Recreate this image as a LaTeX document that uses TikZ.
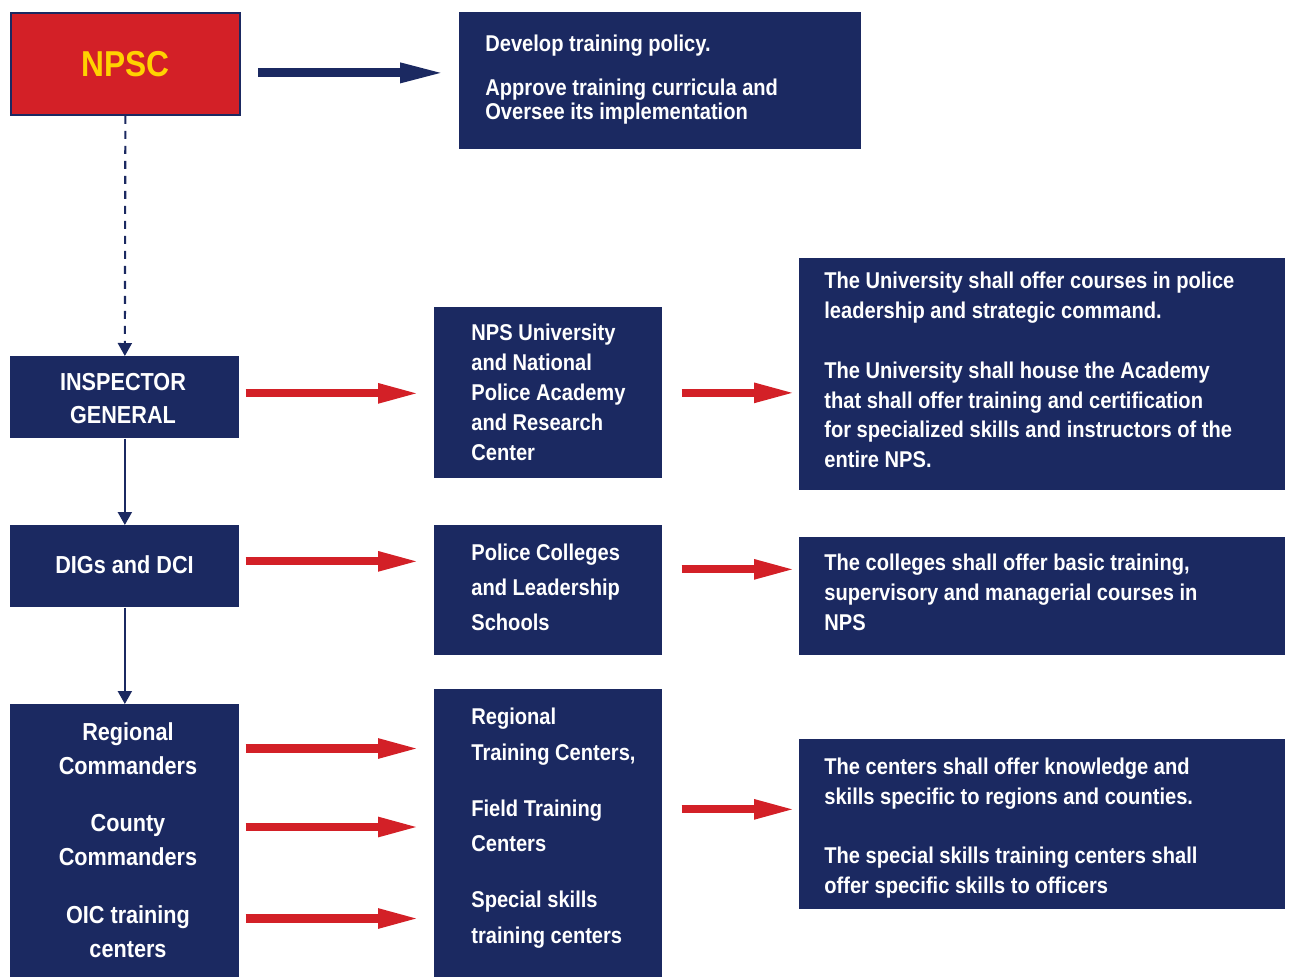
\documentclass[tikz,border=0pt]{standalone}
\usepackage{fontspec}
\setmainfont{Liberation Sans}[FakeStretch=0.88]
\usetikzlibrary{arrows.meta,positioning}

\definecolor{npsNavy}{HTML}{1B2961}
\definecolor{npsRed}{HTML}{D32027}
\definecolor{npsYellow}{HTML}{FFD200}

\tikzset{
    box/.style={fill=npsNavy, anchor=north west, inner sep=0pt},
    rankText/.style={text=white, font=\bfseries\fontsize{14}{19}\selectfont, align=center, inner sep=0pt},
    unitText/.style={text=white, font=\bfseries\fontsize{13}{17}\selectfont, align=left, anchor=west, inner sep=0pt},
    roleText/.style={text=white, font=\bfseries\fontsize{13}{17}\selectfont, align=left, anchor=west, inner sep=0pt},
    redArrow/.style={draw=npsRed, line width=4.6pt, -{Triangle[length=0.84cm,width=0.36cm]}},
    navyArrow/.style={draw=npsNavy, line width=5pt, -{Triangle[length=0.92cm,width=0.36cm]}},
    chainArrow/.style={draw=npsNavy, line width=1.2pt, -{Triangle[length=0.26cm,width=0.28cm]}}
}

\begin{document}
\begin{tikzpicture}
    \useasboundingbox (0,0) rectangle (25.84,-19.54);

    % commission and its mandate
    \node[box, fill=npsRed, draw=npsNavy, line width=1pt, minimum width=4.58cm, minimum height=2.04cm,
        text=npsYellow, font=\bfseries\fontsize{20.5}{24}\selectfont] (npsc) at (0.2,-0.24) {NPSC};
    \node[box, minimum width=8.04cm, minimum height=2.74cm] (policy) at (9.18,-0.24) {};
    \node[roleText, font=\bfseries\fontsize{13}{13.6}\selectfont] (policyText) at (9.70,-1.6)
        {Develop training policy.\\[11.4pt] Approve training curricula and\\ Oversee its implementation};

    % command chain
    \node[box, minimum width=4.58cm, minimum height=1.64cm] (ig) at (0.2,-7.12) {};
    \node[rankText, font=\bfseries\fontsize{14}{18.7}\selectfont] (igText) at (2.46,-7.97) {INSPECTOR\\ GENERAL};
    \node[box, minimum width=4.58cm, minimum height=1.64cm] (digs) at (0.2,-10.5) {};
    \node[rankText] (digsText) at (2.49,-11.3) {DIGs and DCI};
    \node[box, minimum width=4.58cm, minimum height=5.46cm] (regcmd) at (0.2,-14.08) {};
    \node[rankText] (rc) at (2.56,-14.97) {Regional\\ Commanders};
    \node[rankText] (cc) at (2.56,-16.8) {County\\ Commanders};
    \node[rankText] (oic) at (2.56,-18.63) {OIC training\\ centers};

    % training institutions
    \node[box, minimum width=4.56cm, minimum height=3.42cm] (univ) at (8.68,-6.14) {};
    \node[unitText] (univText) at (9.42,-7.85)
        {NPS University\\ and National\\ Police Academy\\ and Research\\ Center};
    \node[box, minimum width=4.56cm, minimum height=2.6cm] (colleges) at (8.68,-10.5) {};
    \node[unitText, font=\bfseries\fontsize{13}{20}\selectfont] (collegesText) at (9.42,-11.74)
        {Police Colleges\\ and Leadership\\ Schools};
    \node[box, minimum width=4.56cm, minimum height=5.76cm] (centers) at (8.68,-13.78) {};
    \node[unitText, font=\bfseries\fontsize{13}{20.3}\selectfont] (centersText) at (9.42,-16.56)
        {Regional\\ Training Centers,\\[11.4pt] Field Training\\ Centers\\[11.4pt] Special skills\\ training centers};

    % mandates of the institutions
    \node[box, minimum width=9.72cm, minimum height=4.64cm] (univRole) at (15.98,-5.16) {};
    \node[roleText] (univRoleText) at (16.48,-7.4)
        {The University shall offer courses in police\\ leadership and strategic command.\\[17pt]
         The University shall house the Academy\\ that shall offer training and certification\\
         for specialized skills and instructors of the\\ entire NPS.};
    \node[box, minimum width=9.72cm, minimum height=2.36cm] (collegesRole) at (15.98,-10.74) {};
    \node[roleText] (collegesRoleText) at (16.48,-11.84)
        {The colleges shall offer basic training,\\ supervisory and managerial courses in\\ NPS};
    \node[box, minimum width=9.72cm, minimum height=3.4cm] (centersRole) at (15.98,-14.78) {};
    \node[roleText] (centersRoleText) at (16.48,-16.56)
        {The centers shall offer knowledge and\\ skills specific to regions and counties.\\[16.5pt]
         The special skills training centers shall\\ offer specific skills to officers};

    % connectors
    \draw[navyArrow, shorten <=0.34cm, shorten >=0.26cm] ([yshift=-0.18cm]npsc.east) -- ([yshift=-0.18cm]npsc.east -| policy.west);
    \draw[chainArrow, dashed, dash pattern=on 0.16cm off 0.14cm] (npsc.south) -- (ig.north);
    \draw[chainArrow] (ig.south) -- (digs.north);
    \draw[chainArrow] (digs.south) -- (regcmd.north);

    \draw[redArrow, shorten <=0.12cm, shorten >=0.28cm] ([yshift=0.08cm]ig.east) -- ([yshift=0.08cm]ig.east -| univ.west);
    \draw[redArrow, shorten <=0.12cm, shorten >=0.28cm] ([yshift=0.1cm]digs.east) -- ([yshift=0.1cm]digs.east -| colleges.west);
    \draw[redArrow, shorten <=0.12cm, shorten >=0.28cm] (rc.east -| regcmd.east) -- (rc.east -| centers.west);
    \draw[redArrow, shorten <=0.12cm, shorten >=0.28cm] ([yshift=0.26cm]cc.east -| regcmd.east) -- ([yshift=0.26cm]cc.east -| centers.west);
    \draw[redArrow, shorten <=0.12cm, shorten >=0.28cm] ([yshift=0.26cm]oic.east -| regcmd.east) -- ([yshift=0.26cm]oic.east -| centers.west);

    \draw[redArrow, shorten <=0.38cm, shorten >=0.06cm] (univ.east) -- (univ.east -| univRole.west);
    \draw[redArrow, shorten <=0.38cm, shorten >=0.06cm] ([yshift=0.42cm]colleges.east) -- ([yshift=0.42cm]colleges.east -| collegesRole.west);
    \draw[redArrow, shorten <=0.38cm, shorten >=0.06cm] ([yshift=0.48cm]centers.east) -- ([yshift=0.48cm]centers.east -| centersRole.west);
\end{tikzpicture}
\end{document}
